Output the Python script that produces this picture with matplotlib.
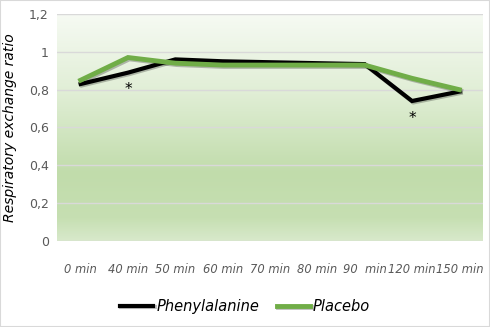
import numpy as np
import matplotlib
matplotlib.use('Agg')
import matplotlib.pyplot as plt
import matplotlib.patheffects as pe
from matplotlib.colors import LinearSegmentedColormap
from matplotlib.ticker import FuncFormatter

# data
times = ['0 min', '40 min', '50 min', '60 min', '70 min', '80 min', '90  min', '120 min', '150 min']
phenylalanine = [0.83, 0.89, 0.96, 0.95, 0.945, 0.94, 0.935, 0.74, 0.79]
placebo = [0.85, 0.97, 0.94, 0.93, 0.93, 0.93, 0.93, 0.86, 0.80]
stars = [(1, 0.80), (7, 0.65)]

fig = plt.figure(figsize=(4.9, 3.27), dpi=100)
ax = fig.add_axes([57 / 490, 1 - 241 / 327, 426 / 490, 227 / 327])

x = np.arange(len(times))

# green gradient background (white at top, green lower down)
cmap = LinearSegmentedColormap.from_list('bg', [
    (0.0, '#f6faf3'), (0.35, '#e0eed5'), (0.7, '#c1dcab'), (0.9, '#c6dfb2'), (1.0, '#d8e9cb')])
grad = np.linspace(0, 1, 256).reshape(-1, 1)
ax.imshow(grad, aspect='auto', cmap=cmap, origin='upper',
          extent=(-0.5, len(times) - 0.5, 0, 1.2), zorder=0)

ax.set_xlim(-0.5, len(times) - 0.5)
ax.set_ylim(0, 1.2)
ax.set_yticks(np.arange(0, 1.21, 0.2))
ax.yaxis.set_major_formatter(FuncFormatter(lambda v, p: ('%g' % round(v, 1)).replace('.', ',')))
ax.grid(axis='y', color='#d9d9d9', linewidth=1, zorder=1)
ax.set_axisbelow(False)

shadow = [pe.SimpleLineShadow(offset=(1, -1), alpha=0.25), pe.Normal()]
ax.plot(x, phenylalanine, color='black', linewidth=3, label='Phenylalanine',
        path_effects=shadow, zorder=3, solid_joinstyle='miter')
ax.plot(x, placebo, color='#70ad47', linewidth=3.5, label='Placebo',
        path_effects=shadow, zorder=4, solid_joinstyle='miter')

for sx, sy in stars:
    ax.text(sx, sy, '*', ha='center', va='center', fontsize=11, color='black', zorder=5)

ax.set_xticks(x)
ax.set_xticklabels(times, fontsize=8.3, style='italic', color='#595959')
for lab in ax.get_yticklabels():
    lab.set_color('#595959')
    lab.set_fontsize(9)
ax.tick_params(length=0, pad=6)
ax.tick_params(axis='x', pad=16)
for s in ax.spines.values():
    s.set_visible(False)

ax.set_ylabel('Respiratory exchange ratio', fontsize=10, style='italic', color='black')
ax.yaxis.set_label_coords(-0.095, 0.5)

fig.legend(loc='lower center', ncol=2, frameon=False, bbox_to_anchor=(0.5, 0.0),
           prop={'size': 10.5, 'style': 'italic'}, handlelength=2.3,
           columnspacing=1.2, handletextpad=0.2)

fig.patches.append(plt.Rectangle((0, 0), 1, 1, transform=fig.transFigure, fill=False,
                                 edgecolor='#d9d9d9', linewidth=1.5))

fig.savefig('out.png', dpi=100)
